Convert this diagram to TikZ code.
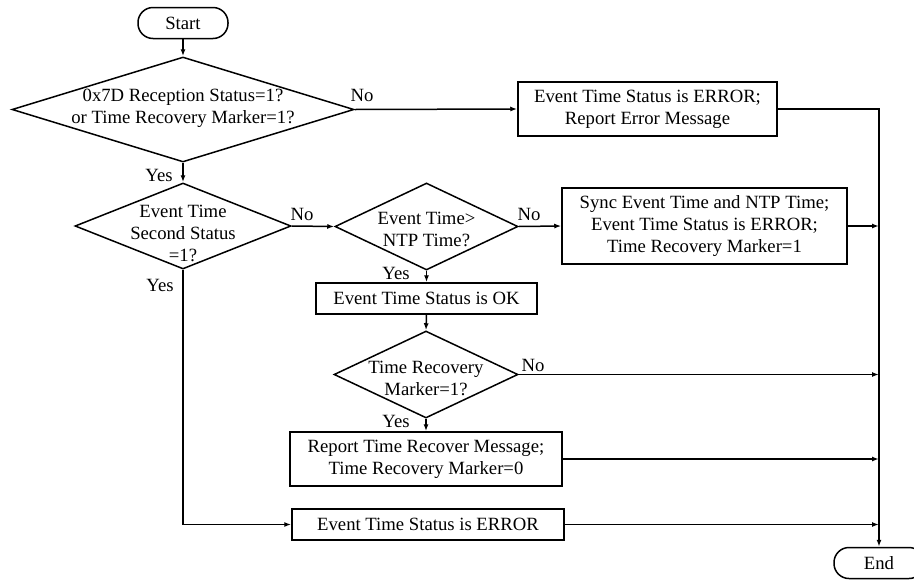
\documentclass[tikz,border=0pt]{standalone}
\usepackage{fontspec}
\setmainfont{Liberation Serif}
\usetikzlibrary{shapes.geometric,arrows.meta}
\begin{document}
\begin{tikzpicture}[x=1pt,y=-1pt,
  font=\fontsize{18.7}{22}\selectfont,
  every label/.style={align=center,inner sep=0pt},
  box/.style={draw,line width=1.5pt,rectangle,inner sep=0pt,align=center},
  term/.style={draw,line width=1.5pt,rectangle,rounded corners=15pt,minimum width=90pt,minimum height=31pt,inner sep=0pt},
  dec/.style={draw,line width=1.5pt,diamond,inner sep=0pt},
  arr/.style={line width=1.5pt,-{Latex[length=7pt,width=5pt]}},
  lbl/.style={inner sep=0pt}]
\useasboundingbox (0,0) rectangle (914,579);

% terminals
\node[term] (start) at (183,23) {Start};
\node[term] (endn) at (879,563) {End};

% decisions
\node[dec,minimum width=342pt,minimum height=105pt,
  label={[yshift=1pt]center:0x7D Reception Status=1?\\or Time Recovery Marker=1?}] (d1) at (183,109.5) {};
\node[dec,minimum width=216pt,minimum height=86pt,
  label={[yshift=-7pt]center:Event Time\\Second Status\\=1?}] (d2) at (183,226) {};
\node[dec,minimum width=183pt,minimum height=87pt,
  label={[yshift=-3pt]center:Event Time>\\NTP Time?}] (d3) at (426.5,226.5) {};
\node[dec,minimum width=184pt,minimum height=87pt,
  label={[yshift=-4pt]center:Time Recovery\\Marker=1?}] (d4) at (426,374.5) {};

% process boxes
\node[box,minimum width=259pt,minimum height=54pt] (b1) at (647.5,109)
  {Event Time Status is ERROR;\\Report Error Message};
\node[box,minimum width=285pt,minimum height=76pt] (b2) at (704.5,226)
  {Sync Event Time and NTP Time;\\Event Time Status is ERROR;\\Time Recovery Marker=1};
\node[box,minimum width=221pt,minimum height=31pt] (b3) at (426.5,298.5)
  {Event Time Status is OK};
\node[box,minimum width=272pt,minimum height=54pt] (b4) at (426,459)
  {Report Time Recover Message;\\Time Recovery Marker=0};
\node[box,minimum width=272pt,minimum height=31pt] (b5) at (428,524.5)
  {Event Time Status is ERROR};

% connectors
\draw[arr] (start) -- (d1);
\draw[arr] (d1.east) -- (b1.west);
\draw[arr] (b1.east) -| (endn.north);
\draw[arr] (d1.south) -- (d2.north);
\draw[arr] (d2.east) -- (d3.west);
\draw[arr] (d3.east) -- (b2.west);
\draw[arr] (b2.east) -- (b2.east -| endn.north);
\draw[arr] (d3.south) -- (b3.north);
\draw[arr] (b3.south) -- (d4.north);
\draw[arr] (d4.east) -- (d4.east -| endn.north);
\draw[arr] (d4.south) -- (b4.north);
\draw[arr] (b4.east) -- (b4.east -| endn.north);
\draw[arr] (d2.south) |- (b5.west);
\draw[arr] (b5.east) -- (b5.east -| endn.north);

% edge labels
\node[lbl] (l1) at (362,95) {No};
\node[lbl] (l2) at (159,175) {Yes};
\node[lbl] (l3) at (302,214) {No};
\node[lbl] (l4) at (529,214) {No};
\node[lbl] (l5) at (396,273) {Yes};
\node[lbl] (l6) at (160,285) {Yes};
\node[lbl] (l7) at (533,365) {No};
\node[lbl] (l8) at (396,421) {Yes};
\end{tikzpicture}
\end{document}
